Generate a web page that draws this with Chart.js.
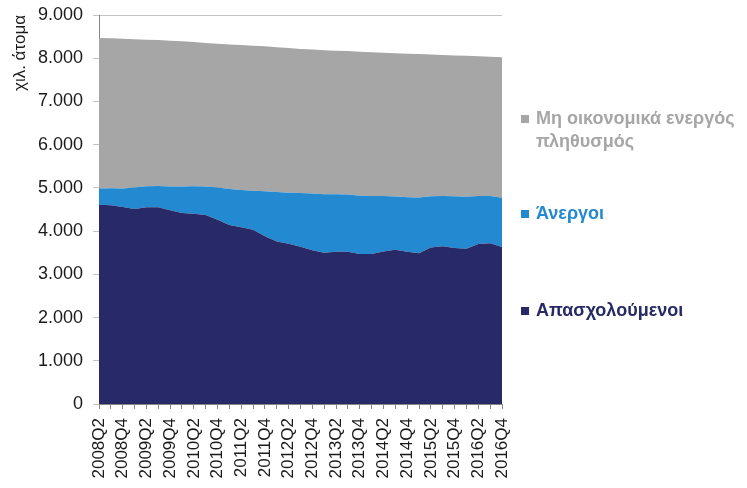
<!DOCTYPE html>
<html lang="el">
<head>
<meta charset="utf-8">
<title>Πληθυσμός κατά κατάσταση απασχόλησης</title>
<script src="https://cdn.jsdelivr.net/npm/chart.js@4.4.1/dist/chart.umd.min.js"></script>
<style>
  body { margin: 0; background: #fff; }
  #wrap { position: relative; width: 747px; height: 488px; overflow: hidden; }
  #legend { position: absolute; left: 0; top: 0; }
  .item { position: absolute; left: 536px; width: 211px; font-family: "Liberation Sans", Arial, sans-serif; font-weight: 700; font-size: 18px; line-height: 23px; }
  .box { position: absolute; left: -15px; width: 8px; height: 8px; }
</style>
</head>
<body>
<div id="wrap">
  <canvas id="popChart" width="747" height="488"></canvas>
  <div id="legend"></div>
</div>
<script>
// quarters 2008Q2 .. 2016Q4
const quarters = [
  '2008Q2', '2008Q3', '2008Q4',
  '2009Q1', '2009Q2', '2009Q3', '2009Q4',
  '2010Q1', '2010Q2', '2010Q3', '2010Q4',
  '2011Q1', '2011Q2', '2011Q3', '2011Q4',
  '2012Q1', '2012Q2', '2012Q3', '2012Q4',
  '2013Q1', '2013Q2', '2013Q3', '2013Q4',
  '2014Q1', '2014Q2', '2014Q3', '2014Q4',
  '2015Q1', '2015Q2', '2015Q3', '2015Q4',
  '2016Q1', '2016Q2', '2016Q3', '2016Q4'
];

// thousands of persons
const employed = [
  4610, 4600, 4560,
  4510, 4550, 4550, 4480,
  4420, 4400, 4370, 4260,
  4140, 4090, 4030, 3880,
  3760, 3710, 3640, 3560,
  3500, 3520, 3520, 3470,
  3470, 3530, 3570, 3520,
  3490, 3620, 3650, 3610,
  3590, 3700, 3720, 3630
];

const unemployed = [
  375, 390, 425,
  500, 490, 495, 550,
  615, 640, 665, 750,
  835, 860, 905, 1040,
  1145, 1180, 1240, 1310,
  1350, 1335, 1325, 1350,
  1340, 1280, 1230, 1265,
  1290, 1185, 1165, 1195,
  1205, 1115, 1090, 1140
];

const inactive = [
  3480, 3470, 3465,
  3430, 3390, 3375, 3375,
  3355, 3335, 3320, 3325,
  3345, 3355, 3355, 3355,
  3350, 3345, 3335, 3330,
  3335, 3320, 3320, 3330,
  3330, 3315, 3315, 3320,
  3315, 3280, 3260, 3260,
  3260, 3230, 3225, 3255
];

const seriesNames = ['Απασχολούμενοι', 'Άνεργοι', 'Μη οικονομικά ενεργός πληθυσμός'];
const seriesColors = ['#272a66', '#2389d0', '#a6a6a6'];
const yTicks = [0, 1000, 2000, 3000, 4000, 5000, 6000, 7000, 8000, 9000];

const FONT = '"Liberation Sans", Arial, sans-serif';

function withDots(v) {
  // 9000 -> 9.000
  return String(v).replace(/\B(?=(\d{3})+(?!\d))/g, '.');
}

function buildLegend() {
  const legend = document.getElementById('legend');
  const tops = [299, 202, 107]; // one slot per series, bottom series lowest
  for (let i = seriesNames.length - 1; i >= 0; i--) {
    const item = document.createElement('div');
    item.className = 'item';
    item.style.top = tops[i] + 'px';
    item.style.color = seriesColors[i];
    const box = document.createElement('span');
    box.className = 'box';
    box.style.top = '8px';
    box.style.background = seriesColors[i];
    item.appendChild(box);
    item.appendChild(document.createTextNode(seriesNames[i]));
    legend.appendChild(item);
  }
}

function populationChart() {
  const values = [employed, unemployed, inactive];
  const datasets = values.map((vals, i) => ({
    label: seriesNames[i],
    data: vals,
    backgroundColor: seriesColors[i],
    borderColor: seriesColors[i],
    borderWidth: 0,
    pointRadius: 0,
    tension: 0,
    fill: i === 0 ? 'origin' : '-1'
  }));

  const options = {
    responsive: false,
    animation: false,
    layout: {
      padding: { left: 0, top: 15, right: 245, bottom: 0 }
    },
    scales: {
      x: {
        offset: false,
        border: { color: '#868686', width: 1 },
        grid: { drawOnChartArea: false, drawTicks: true, tickLength: 5, color: '#868686' },
        ticks: {
          autoSkip: false,
          maxRotation: 90,
          minRotation: 90,
          padding: 9,
          color: '#1a1a1a',
          font: { family: FONT, size: 17 },
          callback: function(value, index) {
            // every second quarter gets a label
            return index % 2 === 0 ? quarters[index] : '';
          }
        },
        afterFit: function(scale) {
          scale.height = 84;
        }
      },
      y: {
        stacked: true,
        min: 0,
        max: 9000,
        border: { color: '#868686', width: 1 },
        grid: { color: '#c4c4c4', drawTicks: true, tickLength: 6 },
        afterBuildTicks: function(scale) {
          scale.ticks = yTicks.map(v => ({ value: v }));
        },
        ticks: {
          padding: 10,
          color: '#1a1a1a',
          font: { family: FONT, size: 18 },
          callback: function(value) {
            return withDots(value);
          }
        },
        title: {
          display: true,
          text: 'χιλ. άτομα',
          align: 'end',
          color: '#1a1a1a',
          font: { family: FONT, size: 17 },
          padding: { top: 10, bottom: 0 }
        },
        afterFit: function(scale) {
          scale.width = 99;
          // tick padding would otherwise push the plot top down
          scale.paddingTop = 10;
        }
      }
    },
    plugins: {
      legend: { display: false },
      tooltip: { enabled: false }
    }
  };

  const config = {
    type: 'line',
    data: { labels: quarters, datasets },
    options
  };

  const chart = new Chart(document.getElementById('popChart'), config);
}

populationChart();
buildLegend();
</script>
</body>
</html>
